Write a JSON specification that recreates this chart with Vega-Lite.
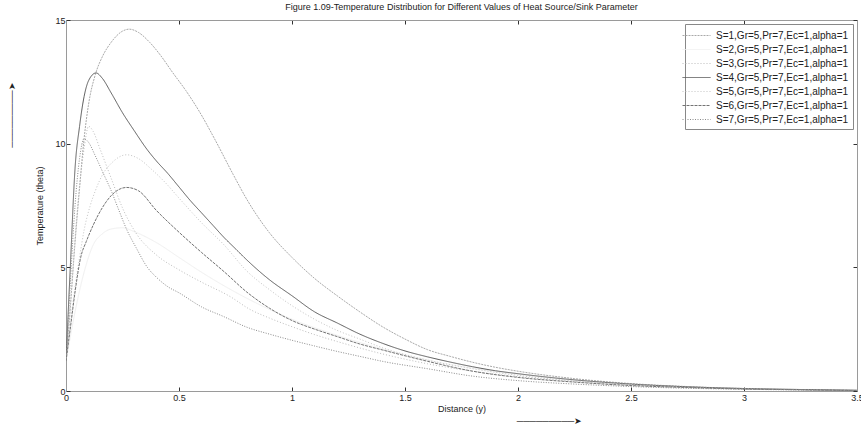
{
  "$schema": "https://vega.github.io/schema/vega-lite/v6.json",
  "width": 791,
  "height": 371,
  "autosize": "none",
  "padding": {"left": 66, "top": 20, "right": 4, "bottom": 40},
  "background": "white",
  "title": {
    "text": "Figure 1.09-Temperature Distribution for Different Values of Heat Source/Sink Parameter",
    "font": "Liberation Sans",
    "fontSize": 9,
    "fontWeight": "normal",
    "color": "#222",
    "anchor": "middle",
    "offset": 4
  },
  "data": {
    "values": [
      {"series":"S=1,Gr=5,Pr=7,Ec=1,alpha=1","x":0,"y":1.2},
      {"series":"S=1,Gr=5,Pr=7,Ec=1,alpha=1","x":0.02,"y":3.5},
      {"series":"S=1,Gr=5,Pr=7,Ec=1,alpha=1","x":0.04,"y":6.0},
      {"series":"S=1,Gr=5,Pr=7,Ec=1,alpha=1","x":0.06,"y":8.2},
      {"series":"S=1,Gr=5,Pr=7,Ec=1,alpha=1","x":0.08,"y":10.2},
      {"series":"S=1,Gr=5,Pr=7,Ec=1,alpha=1","x":0.1,"y":11.6},
      {"series":"S=1,Gr=5,Pr=7,Ec=1,alpha=1","x":0.13,"y":12.8},
      {"series":"S=1,Gr=5,Pr=7,Ec=1,alpha=1","x":0.16,"y":13.5},
      {"series":"S=1,Gr=5,Pr=7,Ec=1,alpha=1","x":0.2,"y":14.1},
      {"series":"S=1,Gr=5,Pr=7,Ec=1,alpha=1","x":0.25,"y":14.55},
      {"series":"S=1,Gr=5,Pr=7,Ec=1,alpha=1","x":0.28,"y":14.63},
      {"series":"S=1,Gr=5,Pr=7,Ec=1,alpha=1","x":0.32,"y":14.5},
      {"series":"S=1,Gr=5,Pr=7,Ec=1,alpha=1","x":0.37,"y":14.1},
      {"series":"S=1,Gr=5,Pr=7,Ec=1,alpha=1","x":0.42,"y":13.55},
      {"series":"S=1,Gr=5,Pr=7,Ec=1,alpha=1","x":0.47,"y":12.9},
      {"series":"S=1,Gr=5,Pr=7,Ec=1,alpha=1","x":0.53,"y":12.15},
      {"series":"S=1,Gr=5,Pr=7,Ec=1,alpha=1","x":0.59,"y":11.3},
      {"series":"S=1,Gr=5,Pr=7,Ec=1,alpha=1","x":0.66,"y":10.15},
      {"series":"S=1,Gr=5,Pr=7,Ec=1,alpha=1","x":0.74,"y":8.75},
      {"series":"S=1,Gr=5,Pr=7,Ec=1,alpha=1","x":0.8,"y":7.75},
      {"series":"S=1,Gr=5,Pr=7,Ec=1,alpha=1","x":0.9,"y":6.4},
      {"series":"S=1,Gr=5,Pr=7,Ec=1,alpha=1","x":1.0,"y":5.4},
      {"series":"S=1,Gr=5,Pr=7,Ec=1,alpha=1","x":1.1,"y":4.55},
      {"series":"S=1,Gr=5,Pr=7,Ec=1,alpha=1","x":1.2,"y":3.85},
      {"series":"S=1,Gr=5,Pr=7,Ec=1,alpha=1","x":1.3,"y":3.2},
      {"series":"S=1,Gr=5,Pr=7,Ec=1,alpha=1","x":1.4,"y":2.6},
      {"series":"S=1,Gr=5,Pr=7,Ec=1,alpha=1","x":1.5,"y":2.1},
      {"series":"S=1,Gr=5,Pr=7,Ec=1,alpha=1","x":1.6,"y":1.67},
      {"series":"S=1,Gr=5,Pr=7,Ec=1,alpha=1","x":1.7,"y":1.4},
      {"series":"S=1,Gr=5,Pr=7,Ec=1,alpha=1","x":1.8,"y":1.16},
      {"series":"S=1,Gr=5,Pr=7,Ec=1,alpha=1","x":1.9,"y":0.96},
      {"series":"S=1,Gr=5,Pr=7,Ec=1,alpha=1","x":2.0,"y":0.8},
      {"series":"S=1,Gr=5,Pr=7,Ec=1,alpha=1","x":2.25,"y":0.5},
      {"series":"S=1,Gr=5,Pr=7,Ec=1,alpha=1","x":2.5,"y":0.3},
      {"series":"S=1,Gr=5,Pr=7,Ec=1,alpha=1","x":2.75,"y":0.18},
      {"series":"S=1,Gr=5,Pr=7,Ec=1,alpha=1","x":3.0,"y":0.1},
      {"series":"S=1,Gr=5,Pr=7,Ec=1,alpha=1","x":3.25,"y":0.05},
      {"series":"S=1,Gr=5,Pr=7,Ec=1,alpha=1","x":3.5,"y":0.02},

      {"series":"S=2,Gr=5,Pr=7,Ec=1,alpha=1","x":0,"y":1.2},
      {"series":"S=2,Gr=5,Pr=7,Ec=1,alpha=1","x":0.04,"y":3.2},
      {"series":"S=2,Gr=5,Pr=7,Ec=1,alpha=1","x":0.08,"y":4.8},
      {"series":"S=2,Gr=5,Pr=7,Ec=1,alpha=1","x":0.12,"y":5.9},
      {"series":"S=2,Gr=5,Pr=7,Ec=1,alpha=1","x":0.16,"y":6.35},
      {"series":"S=2,Gr=5,Pr=7,Ec=1,alpha=1","x":0.2,"y":6.55},
      {"series":"S=2,Gr=5,Pr=7,Ec=1,alpha=1","x":0.25,"y":6.6},
      {"series":"S=2,Gr=5,Pr=7,Ec=1,alpha=1","x":0.3,"y":6.45},
      {"series":"S=2,Gr=5,Pr=7,Ec=1,alpha=1","x":0.4,"y":6.0},
      {"series":"S=2,Gr=5,Pr=7,Ec=1,alpha=1","x":0.5,"y":5.4},
      {"series":"S=2,Gr=5,Pr=7,Ec=1,alpha=1","x":0.6,"y":4.8},
      {"series":"S=2,Gr=5,Pr=7,Ec=1,alpha=1","x":0.7,"y":4.25},
      {"series":"S=2,Gr=5,Pr=7,Ec=1,alpha=1","x":0.8,"y":3.75},
      {"series":"S=2,Gr=5,Pr=7,Ec=1,alpha=1","x":0.9,"y":3.3},
      {"series":"S=2,Gr=5,Pr=7,Ec=1,alpha=1","x":1.0,"y":2.9},
      {"series":"S=2,Gr=5,Pr=7,Ec=1,alpha=1","x":1.2,"y":2.25},
      {"series":"S=2,Gr=5,Pr=7,Ec=1,alpha=1","x":1.4,"y":1.7},
      {"series":"S=2,Gr=5,Pr=7,Ec=1,alpha=1","x":1.6,"y":1.25},
      {"series":"S=2,Gr=5,Pr=7,Ec=1,alpha=1","x":1.8,"y":0.92},
      {"series":"S=2,Gr=5,Pr=7,Ec=1,alpha=1","x":2.0,"y":0.66},
      {"series":"S=2,Gr=5,Pr=7,Ec=1,alpha=1","x":2.25,"y":0.43},
      {"series":"S=2,Gr=5,Pr=7,Ec=1,alpha=1","x":2.5,"y":0.27},
      {"series":"S=2,Gr=5,Pr=7,Ec=1,alpha=1","x":2.75,"y":0.16},
      {"series":"S=2,Gr=5,Pr=7,Ec=1,alpha=1","x":3.0,"y":0.1},
      {"series":"S=2,Gr=5,Pr=7,Ec=1,alpha=1","x":3.25,"y":0.06},
      {"series":"S=2,Gr=5,Pr=7,Ec=1,alpha=1","x":3.5,"y":0.03},

      {"series":"S=3,Gr=5,Pr=7,Ec=1,alpha=1","x":0,"y":1.2},
      {"series":"S=3,Gr=5,Pr=7,Ec=1,alpha=1","x":0.02,"y":3.5},
      {"series":"S=3,Gr=5,Pr=7,Ec=1,alpha=1","x":0.04,"y":6.2},
      {"series":"S=3,Gr=5,Pr=7,Ec=1,alpha=1","x":0.06,"y":8.3},
      {"series":"S=3,Gr=5,Pr=7,Ec=1,alpha=1","x":0.08,"y":9.8},
      {"series":"S=3,Gr=5,Pr=7,Ec=1,alpha=1","x":0.1,"y":10.7},
      {"series":"S=3,Gr=5,Pr=7,Ec=1,alpha=1","x":0.12,"y":10.5},
      {"series":"S=3,Gr=5,Pr=7,Ec=1,alpha=1","x":0.15,"y":9.8},
      {"series":"S=3,Gr=5,Pr=7,Ec=1,alpha=1","x":0.2,"y":8.6},
      {"series":"S=3,Gr=5,Pr=7,Ec=1,alpha=1","x":0.25,"y":7.4},
      {"series":"S=3,Gr=5,Pr=7,Ec=1,alpha=1","x":0.31,"y":6.38},
      {"series":"S=3,Gr=5,Pr=7,Ec=1,alpha=1","x":0.4,"y":5.5},
      {"series":"S=3,Gr=5,Pr=7,Ec=1,alpha=1","x":0.5,"y":4.9},
      {"series":"S=3,Gr=5,Pr=7,Ec=1,alpha=1","x":0.6,"y":4.4},
      {"series":"S=3,Gr=5,Pr=7,Ec=1,alpha=1","x":0.726,"y":3.82},
      {"series":"S=3,Gr=5,Pr=7,Ec=1,alpha=1","x":0.814,"y":3.3},
      {"series":"S=3,Gr=5,Pr=7,Ec=1,alpha=1","x":0.9,"y":2.95},
      {"series":"S=3,Gr=5,Pr=7,Ec=1,alpha=1","x":1.0,"y":2.6},
      {"series":"S=3,Gr=5,Pr=7,Ec=1,alpha=1","x":1.11,"y":2.25},
      {"series":"S=3,Gr=5,Pr=7,Ec=1,alpha=1","x":1.2,"y":2.0},
      {"series":"S=3,Gr=5,Pr=7,Ec=1,alpha=1","x":1.4,"y":1.5},
      {"series":"S=3,Gr=5,Pr=7,Ec=1,alpha=1","x":1.6,"y":1.1},
      {"series":"S=3,Gr=5,Pr=7,Ec=1,alpha=1","x":1.8,"y":0.8},
      {"series":"S=3,Gr=5,Pr=7,Ec=1,alpha=1","x":2.0,"y":0.58},
      {"series":"S=3,Gr=5,Pr=7,Ec=1,alpha=1","x":2.25,"y":0.38},
      {"series":"S=3,Gr=5,Pr=7,Ec=1,alpha=1","x":2.5,"y":0.24},
      {"series":"S=3,Gr=5,Pr=7,Ec=1,alpha=1","x":2.75,"y":0.15},
      {"series":"S=3,Gr=5,Pr=7,Ec=1,alpha=1","x":3.0,"y":0.09},
      {"series":"S=3,Gr=5,Pr=7,Ec=1,alpha=1","x":3.25,"y":0.05},
      {"series":"S=3,Gr=5,Pr=7,Ec=1,alpha=1","x":3.5,"y":0.03},

      {"series":"S=4,Gr=5,Pr=7,Ec=1,alpha=1","x":0,"y":1.2},
      {"series":"S=4,Gr=5,Pr=7,Ec=1,alpha=1","x":0.02,"y":5.2},
      {"series":"S=4,Gr=5,Pr=7,Ec=1,alpha=1","x":0.04,"y":9.0},
      {"series":"S=4,Gr=5,Pr=7,Ec=1,alpha=1","x":0.06,"y":10.7},
      {"series":"S=4,Gr=5,Pr=7,Ec=1,alpha=1","x":0.08,"y":11.9},
      {"series":"S=4,Gr=5,Pr=7,Ec=1,alpha=1","x":0.1,"y":12.55},
      {"series":"S=4,Gr=5,Pr=7,Ec=1,alpha=1","x":0.133,"y":12.86},
      {"series":"S=4,Gr=5,Pr=7,Ec=1,alpha=1","x":0.16,"y":12.65},
      {"series":"S=4,Gr=5,Pr=7,Ec=1,alpha=1","x":0.2,"y":12.05},
      {"series":"S=4,Gr=5,Pr=7,Ec=1,alpha=1","x":0.25,"y":11.25},
      {"series":"S=4,Gr=5,Pr=7,Ec=1,alpha=1","x":0.3,"y":10.55},
      {"series":"S=4,Gr=5,Pr=7,Ec=1,alpha=1","x":0.36,"y":9.75},
      {"series":"S=4,Gr=5,Pr=7,Ec=1,alpha=1","x":0.4,"y":9.3},
      {"series":"S=4,Gr=5,Pr=7,Ec=1,alpha=1","x":0.45,"y":8.8},
      {"series":"S=4,Gr=5,Pr=7,Ec=1,alpha=1","x":0.5,"y":8.25},
      {"series":"S=4,Gr=5,Pr=7,Ec=1,alpha=1","x":0.55,"y":7.7},
      {"series":"S=4,Gr=5,Pr=7,Ec=1,alpha=1","x":0.6,"y":7.2},
      {"series":"S=4,Gr=5,Pr=7,Ec=1,alpha=1","x":0.65,"y":6.7},
      {"series":"S=4,Gr=5,Pr=7,Ec=1,alpha=1","x":0.7,"y":6.2},
      {"series":"S=4,Gr=5,Pr=7,Ec=1,alpha=1","x":0.75,"y":5.75},
      {"series":"S=4,Gr=5,Pr=7,Ec=1,alpha=1","x":0.8,"y":5.3},
      {"series":"S=4,Gr=5,Pr=7,Ec=1,alpha=1","x":0.9,"y":4.5},
      {"series":"S=4,Gr=5,Pr=7,Ec=1,alpha=1","x":1.0,"y":3.85},
      {"series":"S=4,Gr=5,Pr=7,Ec=1,alpha=1","x":1.1,"y":3.2},
      {"series":"S=4,Gr=5,Pr=7,Ec=1,alpha=1","x":1.2,"y":2.75},
      {"series":"S=4,Gr=5,Pr=7,Ec=1,alpha=1","x":1.3,"y":2.3},
      {"series":"S=4,Gr=5,Pr=7,Ec=1,alpha=1","x":1.4,"y":1.93},
      {"series":"S=4,Gr=5,Pr=7,Ec=1,alpha=1","x":1.5,"y":1.62},
      {"series":"S=4,Gr=5,Pr=7,Ec=1,alpha=1","x":1.6,"y":1.38},
      {"series":"S=4,Gr=5,Pr=7,Ec=1,alpha=1","x":1.7,"y":1.17},
      {"series":"S=4,Gr=5,Pr=7,Ec=1,alpha=1","x":1.8,"y":0.98},
      {"series":"S=4,Gr=5,Pr=7,Ec=1,alpha=1","x":1.9,"y":0.82},
      {"series":"S=4,Gr=5,Pr=7,Ec=1,alpha=1","x":2.0,"y":0.7},
      {"series":"S=4,Gr=5,Pr=7,Ec=1,alpha=1","x":2.25,"y":0.45},
      {"series":"S=4,Gr=5,Pr=7,Ec=1,alpha=1","x":2.5,"y":0.28},
      {"series":"S=4,Gr=5,Pr=7,Ec=1,alpha=1","x":2.75,"y":0.17},
      {"series":"S=4,Gr=5,Pr=7,Ec=1,alpha=1","x":3.0,"y":0.1},
      {"series":"S=4,Gr=5,Pr=7,Ec=1,alpha=1","x":3.25,"y":0.06},
      {"series":"S=4,Gr=5,Pr=7,Ec=1,alpha=1","x":3.5,"y":0.03},

      {"series":"S=5,Gr=5,Pr=7,Ec=1,alpha=1","x":0,"y":1.2},
      {"series":"S=5,Gr=5,Pr=7,Ec=1,alpha=1","x":0.02,"y":2.8},
      {"series":"S=5,Gr=5,Pr=7,Ec=1,alpha=1","x":0.04,"y":4.2},
      {"series":"S=5,Gr=5,Pr=7,Ec=1,alpha=1","x":0.06,"y":5.4},
      {"series":"S=5,Gr=5,Pr=7,Ec=1,alpha=1","x":0.08,"y":6.5},
      {"series":"S=5,Gr=5,Pr=7,Ec=1,alpha=1","x":0.106,"y":7.46},
      {"series":"S=5,Gr=5,Pr=7,Ec=1,alpha=1","x":0.13,"y":8.1},
      {"series":"S=5,Gr=5,Pr=7,Ec=1,alpha=1","x":0.165,"y":8.8},
      {"series":"S=5,Gr=5,Pr=7,Ec=1,alpha=1","x":0.2,"y":9.2},
      {"series":"S=5,Gr=5,Pr=7,Ec=1,alpha=1","x":0.268,"y":9.55},
      {"series":"S=5,Gr=5,Pr=7,Ec=1,alpha=1","x":0.32,"y":9.4},
      {"series":"S=5,Gr=5,Pr=7,Ec=1,alpha=1","x":0.38,"y":8.95},
      {"series":"S=5,Gr=5,Pr=7,Ec=1,alpha=1","x":0.442,"y":8.4},
      {"series":"S=5,Gr=5,Pr=7,Ec=1,alpha=1","x":0.5,"y":7.8},
      {"series":"S=5,Gr=5,Pr=7,Ec=1,alpha=1","x":0.6,"y":6.8},
      {"series":"S=5,Gr=5,Pr=7,Ec=1,alpha=1","x":0.7,"y":5.9},
      {"series":"S=5,Gr=5,Pr=7,Ec=1,alpha=1","x":0.8,"y":4.85},
      {"series":"S=5,Gr=5,Pr=7,Ec=1,alpha=1","x":0.9,"y":4.1},
      {"series":"S=5,Gr=5,Pr=7,Ec=1,alpha=1","x":1.0,"y":3.45},
      {"series":"S=5,Gr=5,Pr=7,Ec=1,alpha=1","x":1.1,"y":2.9},
      {"series":"S=5,Gr=5,Pr=7,Ec=1,alpha=1","x":1.2,"y":2.45},
      {"series":"S=5,Gr=5,Pr=7,Ec=1,alpha=1","x":1.3,"y":2.1},
      {"series":"S=5,Gr=5,Pr=7,Ec=1,alpha=1","x":1.4,"y":1.75},
      {"series":"S=5,Gr=5,Pr=7,Ec=1,alpha=1","x":1.6,"y":1.25},
      {"series":"S=5,Gr=5,Pr=7,Ec=1,alpha=1","x":1.8,"y":0.9},
      {"series":"S=5,Gr=5,Pr=7,Ec=1,alpha=1","x":2.0,"y":0.63},
      {"series":"S=5,Gr=5,Pr=7,Ec=1,alpha=1","x":2.25,"y":0.41},
      {"series":"S=5,Gr=5,Pr=7,Ec=1,alpha=1","x":2.5,"y":0.26},
      {"series":"S=5,Gr=5,Pr=7,Ec=1,alpha=1","x":2.75,"y":0.16},
      {"series":"S=5,Gr=5,Pr=7,Ec=1,alpha=1","x":3.0,"y":0.1},
      {"series":"S=5,Gr=5,Pr=7,Ec=1,alpha=1","x":3.25,"y":0.06},
      {"series":"S=5,Gr=5,Pr=7,Ec=1,alpha=1","x":3.5,"y":0.03},

      {"series":"S=6,Gr=5,Pr=7,Ec=1,alpha=1","x":0,"y":1.2},
      {"series":"S=6,Gr=5,Pr=7,Ec=1,alpha=1","x":0.02,"y":2.6},
      {"series":"S=6,Gr=5,Pr=7,Ec=1,alpha=1","x":0.04,"y":4.0},
      {"series":"S=6,Gr=5,Pr=7,Ec=1,alpha=1","x":0.065,"y":5.4},
      {"series":"S=6,Gr=5,Pr=7,Ec=1,alpha=1","x":0.09,"y":6.05},
      {"series":"S=6,Gr=5,Pr=7,Ec=1,alpha=1","x":0.12,"y":6.7},
      {"series":"S=6,Gr=5,Pr=7,Ec=1,alpha=1","x":0.16,"y":7.4},
      {"series":"S=6,Gr=5,Pr=7,Ec=1,alpha=1","x":0.2,"y":7.9},
      {"series":"S=6,Gr=5,Pr=7,Ec=1,alpha=1","x":0.268,"y":8.23},
      {"series":"S=6,Gr=5,Pr=7,Ec=1,alpha=1","x":0.32,"y":8.1},
      {"series":"S=6,Gr=5,Pr=7,Ec=1,alpha=1","x":0.4,"y":7.3},
      {"series":"S=6,Gr=5,Pr=7,Ec=1,alpha=1","x":0.5,"y":6.42},
      {"series":"S=6,Gr=5,Pr=7,Ec=1,alpha=1","x":0.6,"y":5.6},
      {"series":"S=6,Gr=5,Pr=7,Ec=1,alpha=1","x":0.7,"y":4.82},
      {"series":"S=6,Gr=5,Pr=7,Ec=1,alpha=1","x":0.8,"y":4.0},
      {"series":"S=6,Gr=5,Pr=7,Ec=1,alpha=1","x":0.9,"y":3.35},
      {"series":"S=6,Gr=5,Pr=7,Ec=1,alpha=1","x":1.0,"y":2.85},
      {"series":"S=6,Gr=5,Pr=7,Ec=1,alpha=1","x":1.11,"y":2.47},
      {"series":"S=6,Gr=5,Pr=7,Ec=1,alpha=1","x":1.2,"y":2.2},
      {"series":"S=6,Gr=5,Pr=7,Ec=1,alpha=1","x":1.3,"y":1.9},
      {"series":"S=6,Gr=5,Pr=7,Ec=1,alpha=1","x":1.4,"y":1.66},
      {"series":"S=6,Gr=5,Pr=7,Ec=1,alpha=1","x":1.6,"y":1.2},
      {"series":"S=6,Gr=5,Pr=7,Ec=1,alpha=1","x":1.8,"y":0.8},
      {"series":"S=6,Gr=5,Pr=7,Ec=1,alpha=1","x":2.0,"y":0.55},
      {"series":"S=6,Gr=5,Pr=7,Ec=1,alpha=1","x":2.25,"y":0.36},
      {"series":"S=6,Gr=5,Pr=7,Ec=1,alpha=1","x":2.5,"y":0.22},
      {"series":"S=6,Gr=5,Pr=7,Ec=1,alpha=1","x":2.75,"y":0.14},
      {"series":"S=6,Gr=5,Pr=7,Ec=1,alpha=1","x":3.0,"y":0.08},
      {"series":"S=6,Gr=5,Pr=7,Ec=1,alpha=1","x":3.25,"y":0.05},
      {"series":"S=6,Gr=5,Pr=7,Ec=1,alpha=1","x":3.5,"y":0.02},

      {"series":"S=7,Gr=5,Pr=7,Ec=1,alpha=1","x":0,"y":1.2},
      {"series":"S=7,Gr=5,Pr=7,Ec=1,alpha=1","x":0.02,"y":4.5},
      {"series":"S=7,Gr=5,Pr=7,Ec=1,alpha=1","x":0.04,"y":7.5},
      {"series":"S=7,Gr=5,Pr=7,Ec=1,alpha=1","x":0.06,"y":9.4},
      {"series":"S=7,Gr=5,Pr=7,Ec=1,alpha=1","x":0.08,"y":10.2},
      {"series":"S=7,Gr=5,Pr=7,Ec=1,alpha=1","x":0.1,"y":10.05},
      {"series":"S=7,Gr=5,Pr=7,Ec=1,alpha=1","x":0.13,"y":9.5},
      {"series":"S=7,Gr=5,Pr=7,Ec=1,alpha=1","x":0.165,"y":8.8},
      {"series":"S=7,Gr=5,Pr=7,Ec=1,alpha=1","x":0.2,"y":8.1},
      {"series":"S=7,Gr=5,Pr=7,Ec=1,alpha=1","x":0.23,"y":7.4},
      {"series":"S=7,Gr=5,Pr=7,Ec=1,alpha=1","x":0.27,"y":6.5},
      {"series":"S=7,Gr=5,Pr=7,Ec=1,alpha=1","x":0.31,"y":5.8},
      {"series":"S=7,Gr=5,Pr=7,Ec=1,alpha=1","x":0.36,"y":5.0},
      {"series":"S=7,Gr=5,Pr=7,Ec=1,alpha=1","x":0.4,"y":4.6},
      {"series":"S=7,Gr=5,Pr=7,Ec=1,alpha=1","x":0.45,"y":4.22},
      {"series":"S=7,Gr=5,Pr=7,Ec=1,alpha=1","x":0.5,"y":3.97},
      {"series":"S=7,Gr=5,Pr=7,Ec=1,alpha=1","x":0.6,"y":3.4},
      {"series":"S=7,Gr=5,Pr=7,Ec=1,alpha=1","x":0.7,"y":3.0},
      {"series":"S=7,Gr=5,Pr=7,Ec=1,alpha=1","x":0.8,"y":2.58},
      {"series":"S=7,Gr=5,Pr=7,Ec=1,alpha=1","x":0.9,"y":2.3},
      {"series":"S=7,Gr=5,Pr=7,Ec=1,alpha=1","x":1.0,"y":2.05},
      {"series":"S=7,Gr=5,Pr=7,Ec=1,alpha=1","x":1.1,"y":1.82},
      {"series":"S=7,Gr=5,Pr=7,Ec=1,alpha=1","x":1.2,"y":1.6},
      {"series":"S=7,Gr=5,Pr=7,Ec=1,alpha=1","x":1.3,"y":1.4},
      {"series":"S=7,Gr=5,Pr=7,Ec=1,alpha=1","x":1.4,"y":1.2},
      {"series":"S=7,Gr=5,Pr=7,Ec=1,alpha=1","x":1.6,"y":0.9},
      {"series":"S=7,Gr=5,Pr=7,Ec=1,alpha=1","x":1.8,"y":0.6},
      {"series":"S=7,Gr=5,Pr=7,Ec=1,alpha=1","x":2.0,"y":0.42},
      {"series":"S=7,Gr=5,Pr=7,Ec=1,alpha=1","x":2.25,"y":0.28},
      {"series":"S=7,Gr=5,Pr=7,Ec=1,alpha=1","x":2.5,"y":0.18},
      {"series":"S=7,Gr=5,Pr=7,Ec=1,alpha=1","x":2.75,"y":0.11},
      {"series":"S=7,Gr=5,Pr=7,Ec=1,alpha=1","x":3.0,"y":0.07},
      {"series":"S=7,Gr=5,Pr=7,Ec=1,alpha=1","x":3.25,"y":0.04},
      {"series":"S=7,Gr=5,Pr=7,Ec=1,alpha=1","x":3.5,"y":0.02}
    ]
  },
  "layer": [
    {
      "mark": {"type": "line", "strokeWidth": 1, "interpolate": "monotone", "clip": true},
      "encoding": {
        "x": {
          "field": "x", "type": "quantitative",
          "scale": {"domain": [0, 3.5], "nice": false, "zero": false},
          "axis": {
            "orient": "bottom",
            "values": [0, 0.5, 1, 1.5, 2, 2.5, 3, 3.5],
            "format": "~g",
            "title": ["Distance (y)", "\u2800\u2800\u2800\u2800\u2800\u2800\u2800\u2800\u2800\u2800\u2800\u2800\u2800\u2800\u2800\u2800\u2800\u2800\u2800\u2800\u2800\u2800\u2800\u2800\u2800─────────➤"],
            "titleLineHeight": 12,
            "titlePadding": 2,
            "labelPadding": 6,
            "labelFlush": false,
            "labelOverlap": false
          }
        },
        "y": {
          "field": "y", "type": "quantitative",
          "scale": {"domain": [0, 15], "nice": false, "zero": true},
          "axis": {
            "orient": "left",
            "values": [0, 5, 10, 15],
            "format": "~g",
            "title": ["\u2800\u2800\u2800\u2800\u2800\u2800\u2800\u2800\u2800\u2800\u2800\u2800\u2800\u2800\u2800\u2800\u2800\u2800\u2800\u2800\u2800\u2800\u2800\u2800\u2800\u2800─────────➤", "Temperature (theta)"],
            "titleLineHeight": 28,
            "titlePadding": 10,
            "labelPadding": 5
          }
        },
        "color": {
          "field": "series", "type": "nominal",
          "scale": {
            "domain": ["S=1,Gr=5,Pr=7,Ec=1,alpha=1","S=2,Gr=5,Pr=7,Ec=1,alpha=1","S=3,Gr=5,Pr=7,Ec=1,alpha=1","S=4,Gr=5,Pr=7,Ec=1,alpha=1","S=5,Gr=5,Pr=7,Ec=1,alpha=1","S=6,Gr=5,Pr=7,Ec=1,alpha=1","S=7,Gr=5,Pr=7,Ec=1,alpha=1"],
            "range": ["#a9a9a9", "#f0f0f0", "#bdbdbd", "#5a5a5a", "#c4c4c4", "#737373", "#8a8a8a"]
          },
          "legend": {
            "title": null,
            "orient": "top-right",
            "offset": 4,
            "padding": 4,
            "rowPadding": 1,
            "symbolType": "M-2,0H2",
            "symbolSize": 196,
            "symbolStrokeWidth": 1,
            "labelOffset": 12,
            "labelFont": "Liberation Sans",
            "labelFontSize": 10,
            "labelColor": "#222",
            "labelLimit": 300,
            "strokeColor": "#888",
            "fillColor": "white"
          }
        },
        "strokeDash": {
          "field": "series", "type": "nominal",
          "scale": {
            "domain": ["S=1,Gr=5,Pr=7,Ec=1,alpha=1","S=2,Gr=5,Pr=7,Ec=1,alpha=1","S=3,Gr=5,Pr=7,Ec=1,alpha=1","S=4,Gr=5,Pr=7,Ec=1,alpha=1","S=5,Gr=5,Pr=7,Ec=1,alpha=1","S=6,Gr=5,Pr=7,Ec=1,alpha=1","S=7,Gr=5,Pr=7,Ec=1,alpha=1"],
            "range": [[2, 1], [1, 0], [1, 2], [1, 0], [1, 2], [3, 1], [1, 1.5]]
          }
        }
      }
    },
    {
      "mark": {"type": "line", "opacity": 0},
      "encoding": {
        "x": {"field": "x", "type": "quantitative", "axis": {"orient": "top", "labels": false, "title": null, "values": [0, 0.5, 1, 1.5, 2, 2.5, 3, 3.5]}},
        "y": {"field": "y", "type": "quantitative", "axis": {"orient": "right", "labels": false, "title": null, "values": [0, 5, 10, 15]}},
        "detail": {"field": "series"}
      }
    }
  ],
  "resolve": {"axis": {"x": "independent", "y": "independent"}},
  "config": {
    "view": {"stroke": null},
    "axis": {
      "grid": false,
      "domainColor": "#9a9a9a",
      "domainWidth": 1,
      "tickColor": "#333",
      "tickSize": -4,
      "labelFont": "Liberation Sans",
      "labelFontSize": 9,
      "labelColor": "#222",
      "labelPadding": 3,
      "titleFont": "Liberation Sans",
      "titleFontSize": 9,
      "titleFontWeight": "normal",
      "titleColor": "#222"
    }
  }
}
